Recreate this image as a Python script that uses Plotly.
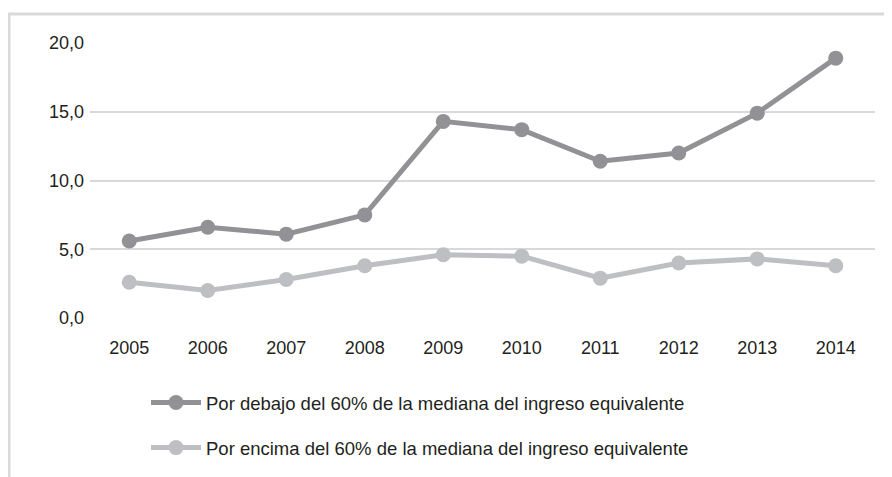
import plotly.graph_objects as go

years = ["2005", "2006", "2007", "2008", "2009", "2010", "2011", "2012", "2013", "2014"]
below_60 = [5.6, 6.6, 6.1, 7.5, 14.3, 13.7, 11.4, 12.0, 14.9, 18.9]
above_60 = [2.6, 2.0, 2.8, 3.8, 4.6, 4.5, 2.9, 4.0, 4.3, 3.8]
series_names = [
    "Por debajo del 60% de la mediana del ingreso equivalente",
    "Por encima del 60% de la mediana del ingreso equivalente",
]
y_ticks = [0, 5, 10, 15, 20]

dark = "#929296"
light = "#bebfc2"

fig = go.Figure()
fig.add_trace(go.Scatter(x=years, y=below_60, name=series_names[0], mode="lines+markers",
                         legendgroup="a",
                         line=dict(color=dark, width=5), marker=dict(color=dark, size=15)))
fig.add_trace(go.Scatter(x=years, y=above_60, name=series_names[1], mode="lines+markers",
                         legendgroup="b",
                         line=dict(color=light, width=5), marker=dict(color=light, size=15)))

# page has an 8px body margin; figure coordinates are page coordinates minus 8
OFF = 8
W, H = 892 - OFF, 477 - OFF
L, T = 90 - OFF, 43 - OFF
R = W - (875 - OFF)
B = H - (318 - OFF)
pw, ph = W - L - R, H - T - B

def px(x):
    return (x - OFF - L) / pw

def py(y):
    return (H - B - (y - OFF)) / ph

border = "#d9d9d9"
fig.update_layout(
    width=W, height=H,
    margin=dict(l=L, r=R, t=T, b=B, autoexpand=False),
    paper_bgcolor="white", plot_bgcolor="white",
    separators=",.",
    font=dict(family="Liberation Sans, Arial, sans-serif", size=18, color="#231f20"),
    xaxis=dict(type="category", range=[-0.5, 9.5], showgrid=False, zeroline=False,
               showline=False, ticks="", ticklabelstandoff=17),
    yaxis=dict(range=[0, 20], tickvals=y_ticks, tickformat=".1f", showgrid=True,
               gridcolor=border, gridwidth=2, zeroline=False, showline=False,
               ticklabelstandoff=5),
    showlegend=True,
    legend=dict(x=px(146), y=py(384), xanchor="left", yanchor="top",
                orientation="v", tracegroupgap=18, font=dict(size=18.5),
                itemwidth=50, bgcolor="rgba(0,0,0,0)"),
    shapes=[
        dict(type="line", xref="paper", yref="paper", x0=px(8), x1=px(900), y0=py(14), y1=py(14),
             line=dict(color=border, width=3)),
        dict(type="line", xref="paper", yref="paper", x0=px(9), x1=px(9), y0=py(13), y1=py(490),
             line=dict(color=border, width=3)),
    ],
)

fig.write_html("out.html")
